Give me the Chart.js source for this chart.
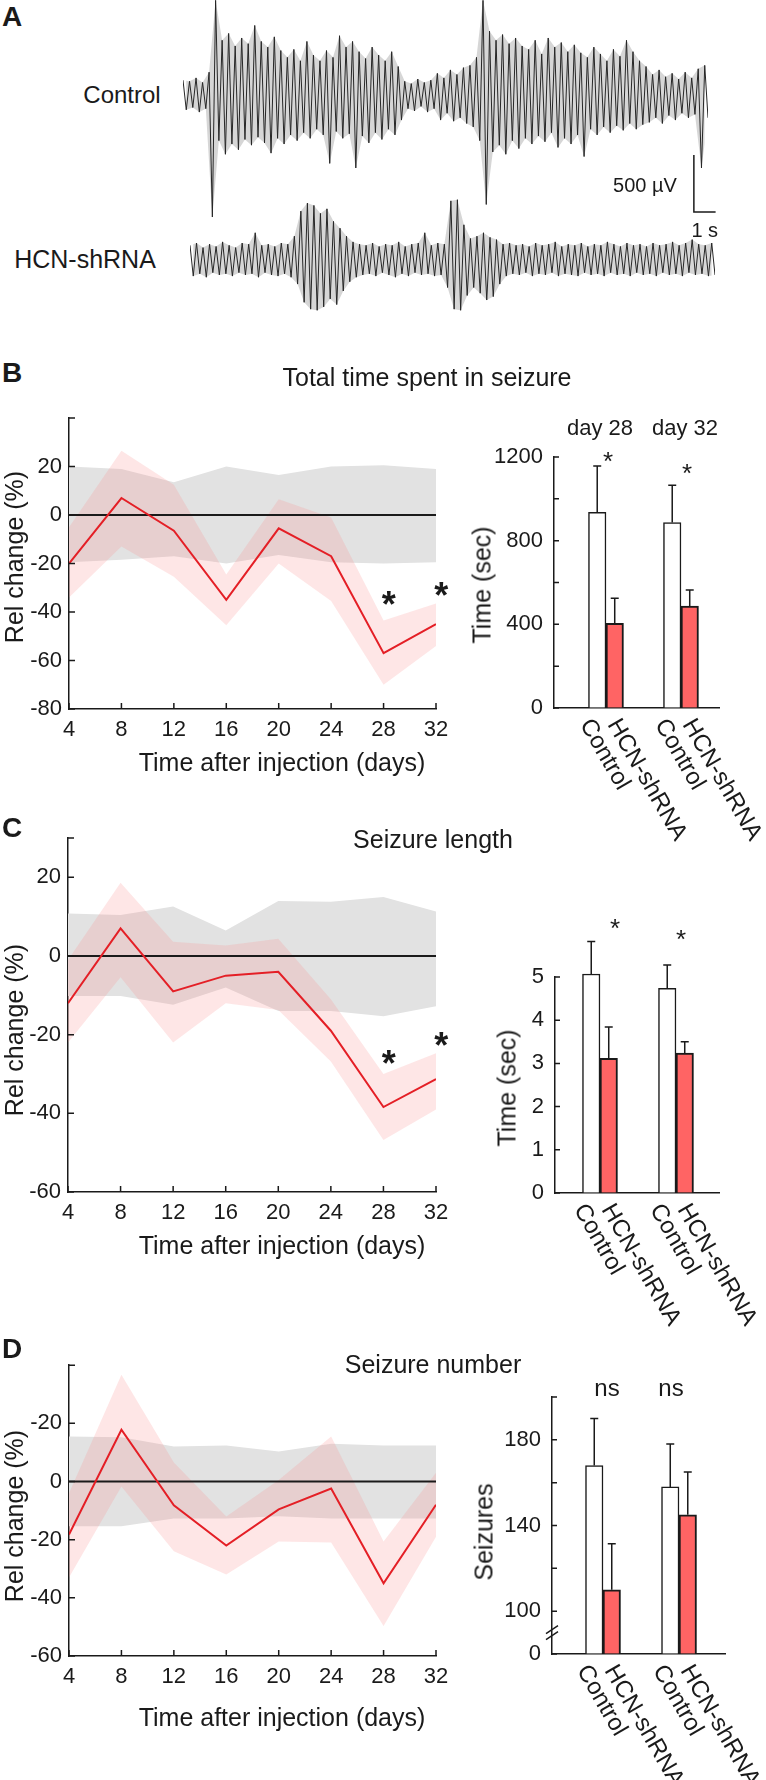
<!DOCTYPE html>
<html>
<head>
<meta charset="utf-8">
<title>HCN-shRNA seizures</title>
<script src="https://cdn.jsdelivr.net/npm/chart.js@4.4.0/dist/chart.umd.min.js"></script>
<style>
  html, body { margin: 0; padding: 0; background: #fff; }
  body { width: 766px; height: 1780px; position: relative; overflow: hidden; font-family: "Liberation Sans", Arial, sans-serif; color: #1a1a1a; }
  canvas { position: absolute; }
  .t { position: absolute; white-space: nowrap; line-height: 1; transform: translate(-50%, -50%); }
</style>
</head>
<body>
<script>
// Panel A - EEG traces, peak values (µV) read every 0.3 s
const sampleStep = 0.3;
const ctrlPeakHi = [130, 120, 150, 110, 200, 830, 480, 540, 430, 500, 450, 610, 470, 420, 510, 390, 330, 400, 300, 470,
  350, 300, 390, 330, 520, 420, 470, 380, 320, 420, 350, 300, 380, 250, 120, 100, 140, 110, 130, 190,
  150, 220, 180, 240, 260, 330, 830, 560, 480, 530, 450, 500, 430, 400, 480, 360, 500, 420, 460, 380,
  440, 370, 330, 420, 360, 300, 400, 340, 480, 380, 300, 250, 180, 220, 160, 190, 140, 200, 150, 230, 260];
const ctrlPeakLo = [-130, -110, -150, -120, -1070, -400, -520, -430, -480, -390, -440, -370, -420, -510, -380, -430, -350, -400, -330, -380,
  -300, -350, -600, -320, -380, -340, -640, -360, -420, -330, -390, -300, -350, -220, -120, -140, -100, -150, -120, -220,
  -160, -230, -200, -250, -280, -400, -960, -500, -440, -520, -400, -470, -380, -430, -360, -410, -330, -460, -380, -430,
  -350, -540, -300, -350, -280, -330, -270, -310, -250, -300, -260, -240, -200, -250, -180, -220, -160, -200, -170, -640, -200];
const hcnPeakHi = [120, 140, 100, 130, 110, 150, 120, 100, 140, 130, 230, 120, 130, 110, 140, 130, 200, 420, 490, 470,
  400, 440, 330, 270, 200, 150, 130, 120, 140, 110, 130, 120, 150, 110, 130, 140, 230, 120, 140, 130,
  510, 520, 300, 180, 200, 230, 190, 170, 130, 140, 120, 130, 110, 140, 120, 130, 150, 110, 130, 120,
  140, 110, 130, 120, 150, 130, 110, 140, 120, 130, 110, 140, 120, 130, 150, 120, 140, 170, 130, 120, 140];
const hcnPeakLo = [-150, -130, -160, -120, -140, -130, -150, -120, -140, -130, -160, -120, -140, -150, -130, -160, -220, -380, -440, -450,
  -420, -350, -400, -280, -200, -160, -140, -130, -150, -120, -140, -160, -130, -150, -120, -140, -130, -150, -140, -250,
  -440, -450, -320, -250, -300, -360, -330, -220, -150, -130, -140, -120, -150, -130, -140, -120, -150, -130, -140, -150,
  -120, -140, -130, -150, -120, -140, -130, -150, -120, -140, -130, -150, -120, -140, -130, -150, -120, -140, -130, -150, -140];
const scaleBarUv = 500;
const scaleBarSec = 1;

// Panels B-D, left: relative change (%) vs day
const days = [4, 8, 12, 16, 20, 24, 28, 32];

const totalTicks = [-80, -60, -40, -20, 0, 20];
const totalTickLabels = ['-80', '-60', '-40', '-20', '0', '20'];
const totalShrna = [-20, 7, -6.5, -35, -5.5, -17, -57, -45];
const totalShrnaHi = [-5, 26.5, 12.5, -24.5, 6.5, -1, -43.5, -36.5];
const totalShrnaLo = [-34, -13, -25.5, -45.5, -20, -35.5, -70, -54];
const totalCtrlHi = [20, 19, 13.5, 20, 16.5, 20, 20.5, 19];
const totalCtrlLo = [-19.5, -18.5, -17, -20, -16.5, -19.5, -20, -19.5];
const totalStars = [[28.4, -33.5], [32.4, -30]];

const lengthTicks = [-60, -40, -20, 0, 20];
const lengthTickLabels = ['-60', '-40', '-20', '0', '20'];
const lengthShrna = [-12, 7, -9, -5, -4, -19, -38.4, -31.3];
const lengthShrnaHi = [-1, 18.6, 3.6, 2.7, 4.4, -11, -30, -24.7];
const lengthShrnaLo = [-22, -5.4, -22, -12, -13.7, -26.8, -46.8, -39];
const lengthCtrlHi = [10.8, 10.4, 12.6, 6.5, 14, 13.8, 15, 11.3];
const lengthCtrlLo = [-10.2, -10.2, -12.4, -8, -14, -14, -15.3, -12.8];
const lengthStars = [[28.4, -25.3], [32.4, -20.6]];

const numberTicks = [-60, -40, -20, 0, 20];
const numberTickLabels = ['-60', '-40', '-20', '0', '-20'];
const numberShrna = [-18.2, 17.8, -8.2, -22, -9.6, -2.4, -35, -8];
const numberShrnaHi = [-4, 36.7, 6.5, -12, 0.5, 15.5, -20.6, 3];
const numberShrnaLo = [-33, -1.7, -24, -32, -20.6, -21, -49.7, -19];
const numberCtrlHi = [15.5, 15.2, 12, 12.4, 10.3, 13, 12.4, 12.4];
const numberCtrlLo = [-15.4, -15.4, -12.7, -12.7, -11.9, -12.7, -12.7, -12.7];

// Panels B-D, right: day 28 / day 32 bars
const barGroups = ['day 28', 'day 32'];
const groupPos = [1, 2];
const seriesNames = ['Control', 'HCN-shRNA'];

const timeTicks = [0, 400, 800, 1200];
const timeMinor = [200, 600, 1000];
const timeCtrl = [935, 887];
const timeCtrlErr = [222, 178];
const timeShrna = [405, 487];
const timeShrnaErr = [120, 77];

const lenTicks = [0, 1, 2, 3, 4, 5];
const lenCtrl = [5.07, 4.74];
const lenCtrlErr = [0.75, 0.54];
const lenShrna = [3.12, 3.24];
const lenShrnaErr = [0.72, 0.26];

// broken axis: the bottom tick stands for 0
const seizTicks = [80, 100, 140, 180];
const seizTickLabels = ['0', '100', '140', '180'];
const seizMinor = [120, 160, 200];
const seizCtrl = [168, 158];
const seizCtrlErr = [22, 20];
const seizShrna = [110, 145];
const seizShrnaErr = [21.5, 20];

const FONT = '"Liberation Sans", Arial, Helvetica, sans-serif';
const INK = '#1a1a1a';
const PINK = 'rgba(250, 140, 140, 0.22)';
const GREY = '#e2e2e2';
const RED = '#e41f26';
const SALMON = '#ff6464';

Chart.defaults.font.family = FONT;
Chart.defaults.color = INK;

function place(left, top, width, height) {
  const c = document.createElement('canvas');
  c.width = width; c.height = height;
  c.style.left = left + 'px'; c.style.top = top + 'px';
  c.style.width = width + 'px'; c.style.height = height + 'px';
  document.body.appendChild(c);
  return c;
}

// layout: left/bottom space is taken by the axis boxes, the rest by padding
function boxFor(rect, area) {
  return {
    yW: area[0] - rect[0],
    xH: rect[1] + rect[3] - area[3],
    pad: { left: 0, top: area[1] - rect[1], right: rect[0] + rect[2] - area[2], bottom: 0 }
  };
}

function text(str, x, y, size, opt) {
  opt = opt || {};
  const d = document.createElement('div');
  d.className = 't';
  d.textContent = str;
  d.style.left = x + 'px';
  d.style.top = y + 'px';
  d.style.fontSize = size + 'px';
  if (opt.bold) d.style.fontWeight = 'bold';
  if (opt.rotate) d.style.transform = 'translate(-50%, -50%) rotate(' + opt.rotate + 'deg)';
  document.body.appendChild(d);
}

const baseOptions = {
  responsive: false,
  animation: false,
  events: [],
  devicePixelRatio: 1
};

// ---- panel A ----
const scaleBarPlugin = {
  id: 'scaleBar',
  afterDraw(chart) {
    const { ctx, scales: { x, y } } = chart;
    const x0 = x.getPixelForValue(23.5), x1 = x.getPixelForValue(23.5 + scaleBarSec);
    const y0 = y.getPixelForValue(-1026), y1 = y.getPixelForValue(-1026 + scaleBarUv);
    ctx.save();
    ctx.strokeStyle = INK; ctx.lineWidth = 1.5;
    ctx.beginPath(); ctx.moveTo(x0, y1); ctx.lineTo(x0, y0); ctx.lineTo(x1, y0); ctx.stroke();
    ctx.fillStyle = INK; ctx.font = '20px ' + FONT;
    ctx.textAlign = 'right'; ctx.textBaseline = 'middle';
    ctx.fillText(scaleBarUv + ' µV', x0 - 17, (y0 + y1) / 2 + 3);
    ctx.textAlign = 'center';
    ctx.fillText(scaleBarSec + ' s', (x0 + x1) / 2, y0 + 19);
    ctx.restore();
  }
};

function traceChart(rect, pad, hi, lo, yMin, yMax, withBar) {
  const zig = [], top = [], bottom = [];
  hi.forEach((h, i) => {
    const t = i * sampleStep;
    zig.push({ x: t, y: h });
    zig.push({ x: t + sampleStep / 2, y: lo[i] });
    top.push({ x: t, y: h });
    bottom.push({ x: t + sampleStep / 2, y: lo[i] });
  });
  const env = (data, fill) => ({ data: data, borderWidth: 0, borderColor: 'rgba(0,0,0,0)', pointRadius: 0, tension: 0,
    fill: fill, backgroundColor: 'rgba(70,70,70,0.22)' });
  new Chart(place(...rect), {
    type: 'line',
    data: { datasets: [
      { data: zig, borderColor: '#262626', borderWidth: 1, pointRadius: 0, tension: 0 },
      env(top, '+1'), env(bottom, false)
    ] },
    options: Object.assign({}, baseOptions, {
      layout: { padding: pad },
      plugins: { legend: { display: false }, tooltip: { enabled: false } },
      scales: {
        x: { type: 'linear', display: false, min: 0, max: (hi.length - 0.5) * sampleStep },
        y: { display: false, min: yMin, max: yMax }
      }
    }),
    plugins: withBar ? [scaleBarPlugin] : []
  });
}

traceChart([183, 0, 560, 245], { left: 0, top: 0, right: 35, bottom: 20 }, ctrlPeakHi, ctrlPeakLo, -1140, 833, true);
traceChart([190, 190, 525, 130], 0, hcnPeakHi, hcnPeakLo, -535, 605, false);

// ---- relative change charts ----
function relDecor(c) {
  return {
    id: 'relDecor',
    beforeDatasetDraw(chart, args) {
      if (args.index !== 0) return;
      const { ctx, chartArea: a, scales: { y } } = chart;
      const py = y.getPixelForValue(0);
      ctx.save();
      ctx.strokeStyle = INK; ctx.lineWidth = 2;
      ctx.beginPath(); ctx.moveTo(a.left, py); ctx.lineTo(a.right, py); ctx.stroke();
      ctx.restore();
    },
    afterDraw(chart) {
      const { ctx, chartArea: a, scales: { x, y } } = chart;
      ctx.save();
      ctx.strokeStyle = INK; ctx.lineWidth = 1.5;
      ctx.beginPath();
      c.yTicks.concat([c.yMax]).forEach(v => {
        const p = y.getPixelForValue(v);
        ctx.moveTo(a.left, p); ctx.lineTo(a.left + 6, p);
      });
      days.forEach(v => {
        const p = x.getPixelForValue(v);
        ctx.moveTo(p, a.bottom); ctx.lineTo(p, a.bottom - 6);
      });
      ctx.stroke();
      ctx.fillStyle = INK; ctx.font = 'bold 36px ' + FONT;
      ctx.textAlign = 'center'; ctx.textBaseline = 'alphabetic';
      (c.stars || []).forEach(s => {
        ctx.fillText('*', x.getPixelForValue(s[0]), y.getPixelForValue(s[1]) + 0.57 * 36);
      });
      ctx.restore();
    }
  };
}

function relChart(rect, area, c) {
  const box = boxFor(rect, area);
  const pts = arr => days.map((d, i) => ({ x: d, y: arr[i] }));
  const band = (arr, fill, color) => ({
    data: pts(arr), borderWidth: 0, borderColor: 'rgba(0,0,0,0)', pointRadius: 0,
    fill: fill, backgroundColor: color, tension: 0
  });
  new Chart(place(...rect), {
    type: 'line',
    data: {
      datasets: [
        { data: pts(c.red), borderColor: RED, borderWidth: 2, pointRadius: 0, fill: false, tension: 0 },
        band(c.pinkHi, '+1', PINK), band(c.pinkLo, false, PINK),
        band(c.greyHi, '+1', GREY), band(c.greyLo, false, GREY)
      ]
    },
    options: Object.assign({}, baseOptions, {
      layout: { padding: box.pad },
      plugins: { legend: { display: false }, tooltip: { enabled: false } },
      scales: {
        x: {
          type: 'linear', min: days[0], max: days[days.length - 1],
          afterFit: s => { s.height = box.xH; },
          afterBuildTicks: s => { s.ticks = days.map(v => ({ value: v })); },
          ticks: { autoSkip: false, maxRotation: 0, padding: 8, font: { size: 22 }, color: INK, callback: (v, i) => String(days[i]) },
          grid: { drawOnChartArea: false, drawTicks: false },
          border: { color: INK, width: 1.5 }
        },
        y: {
          min: c.yMin, max: c.yMax,
          afterFit: s => { s.width = box.yW; },
          afterBuildTicks: s => { s.ticks = c.yTicks.map(v => ({ value: v })); },
          ticks: { padding: 7, font: { size: 22 }, color: INK, callback: (v, i) => c.yLabels[i] },
          grid: { drawOnChartArea: false, drawTicks: false },
          border: { color: INK, width: 1.5 }
        }
      }
    }),
    plugins: [relDecor(c)]
  });
}

relChart([20, 390, 440, 370], [69, 418, 436, 709], {
  yMin: -80, yMax: 40, yTicks: totalTicks, yLabels: totalTickLabels,
  red: totalShrna, pinkHi: totalShrnaHi, pinkLo: totalShrnaLo, greyHi: totalCtrlHi, greyLo: totalCtrlLo, stars: totalStars
});
relChart([20, 815, 440, 420], [68, 838, 436, 1192], {
  yMin: -60, yMax: 30, yTicks: lengthTicks, yLabels: lengthTickLabels,
  red: lengthShrna, pinkHi: lengthShrnaHi, pinkLo: lengthShrnaLo, greyHi: lengthCtrlHi, greyLo: lengthCtrlLo, stars: lengthStars
});
relChart([20, 1345, 440, 360], [69, 1365, 436, 1656], {
  yMin: -60, yMax: 40, yTicks: numberTicks, yLabels: numberTickLabels,
  red: numberShrna, pinkHi: numberShrnaHi, pinkLo: numberShrnaLo, greyHi: numberCtrlHi, greyLo: numberCtrlLo
});

// ---- bar charts ----
const labelShift = [-12, -2];

function barDecor(c) {
  return {
    id: 'barDecor',
    afterDatasetsDraw(chart) {
      const { ctx, chartArea: a, scales: { y } } = chart;
      ctx.save();
      ctx.strokeStyle = INK; ctx.lineWidth = 1.5;
      chart.data.datasets.forEach((ds, di) => {
        chart.getDatasetMeta(di).data.forEach((el, j) => {
          const top = y.getPixelForValue(ds.data[j].y + ds.errors[j]);
          ctx.beginPath();
          ctx.moveTo(el.x, el.y); ctx.lineTo(el.x, top);
          ctx.moveTo(el.x - 4, top); ctx.lineTo(el.x + 4, top);
          ctx.stroke();
        });
      });
      ctx.beginPath();
      c.yTicks.concat(c.minor || []).forEach(v => {
        const p = y.getPixelForValue(v);
        ctx.moveTo(a.left, p); ctx.lineTo(a.left + 5, p);
      });
      ctx.stroke();
      if (c.breakAt) {
        const p = y.getPixelForValue(c.breakAt);
        ctx.beginPath();
        [-3, 3].forEach(d => { ctx.moveTo(a.left - 6, p + d + 4); ctx.lineTo(a.left + 6, p + d - 4); });
        ctx.stroke();
      }
      ctx.fillStyle = INK; ctx.font = '24px ' + FONT;
      ctx.textAlign = 'left'; ctx.textBaseline = 'middle';
      chart.data.datasets.forEach((ds, di) => {
        chart.getDatasetMeta(di).data.forEach(el => {
          ctx.save();
          ctx.translate(el.x + labelShift[di], a.bottom + 13);
          ctx.rotate(Math.PI / 3);
          ctx.fillText(ds.label, 0, 0);
          ctx.restore();
        });
      });
      ctx.restore();
    }
  };
}

function barChart(rect, area, c) {
  const box = boxFor(rect, area);
  const series = (vals, errs, i) => ({
    label: seriesNames[i],
    data: groupPos.map((g, j) => ({ x: g, y: vals[j] })),
    errors: errs,
    base: c.yMin,
    backgroundColor: i ? SALMON : '#ffffff',
    borderColor: INK, borderWidth: i ? 2 : 1.5,
    barThickness: 17.5, clip: false
  });
  new Chart(place(...rect), {
    type: 'bar',
    data: { datasets: [series(c.ctrl, c.ctrlErr, 0), series(c.hcn, c.hcnErr, 1)] },
    options: Object.assign({}, baseOptions, {
      layout: { padding: box.pad },
      plugins: { legend: { display: false }, tooltip: { enabled: false } },
      scales: {
        x: {
          type: 'linear', offset: false, min: c.xMin, max: c.xMax,
          afterFit: s => { s.height = box.xH; },
          afterBuildTicks: s => { s.ticks = groupPos.map(v => ({ value: v })); },
          ticks: { display: false },
          grid: { drawOnChartArea: false, drawTicks: false, offset: false },
          border: { color: INK, width: 1.5 }
        },
        y: {
          min: c.yMin, max: c.yMax,
          afterFit: s => { s.width = box.yW; },
          afterBuildTicks: s => { s.ticks = c.yTicks.map(v => ({ value: v })); },
          ticks: { padding: 11, font: { size: 22 }, color: INK, callback: (v, i) => c.yLabels[i] },
          grid: { drawOnChartArea: false, drawTicks: false },
          border: { color: INK, width: 1.5 }
        }
      }
    }),
    plugins: [barDecor(c)]
  });
}

barChart([478, 400, 288, 450], [554, 457, 719, 708], {
  xMin: 0.307, xMax: 2.507, yMin: 0, yMax: 1200, yTicks: timeTicks, yLabels: timeTicks.map(String), minor: timeMinor,
  ctrl: timeCtrl, ctrlErr: timeCtrlErr, hcn: timeShrna, hcnErr: timeShrnaErr
});
barChart([500, 900, 266, 450], [555, 977, 719, 1193], {
  xMin: 0.408, xMax: 2.566, yMin: 0, yMax: 5, yTicks: lenTicks, yLabels: lenTicks.map(String),
  ctrl: lenCtrl, ctrlErr: lenCtrlErr, hcn: lenShrna, hcnErr: lenShrnaErr
});
barChart([490, 1370, 276, 410], [552, 1397, 725, 1654], {
  xMin: 0.329, xMax: 2.605, yMin: 80, yMax: 200, yTicks: seizTicks, yLabels: seizTickLabels, minor: seizMinor, breakAt: 90,
  ctrl: seizCtrl, ctrlErr: seizCtrlErr, hcn: seizShrna, hcnErr: seizShrnaErr
});

// ---- text ----
text('A', 12, 17, 28, { bold: true });
text('Control', 122, 95, 24);
text('HCN-shRNA', 85, 259, 25);

text('B', 12, 373, 28, { bold: true });
text('Total time spent in seizure', 427, 377, 25);
text('Rel change (%)', 14, 557, 25, { rotate: -90 });
text('Time after injection (days)', 282, 762, 25);
text('Time (sec)', 482, 585, 25, { rotate: -90 });
text(barGroups[0], 600, 428, 22);
text(barGroups[1], 685, 428, 22);
text('*', 608, 461, 26);
text('*', 687, 473, 26);

text('C', 12, 828, 28, { bold: true });
text('Seizure length', 433, 839, 25);
text('Rel change (%)', 14, 1030, 25, { rotate: -90 });
text('Time after injection (days)', 282, 1245, 25);
text('Time (sec)', 507, 1088, 25, { rotate: -90 });
text('*', 615, 928, 26);
text('*', 681, 939, 26);

text('D', 12, 1349, 28, { bold: true });
text('Seizure number', 433, 1364, 25);
text('Rel change (%)', 14, 1516, 25, { rotate: -90 });
text('Time after injection (days)', 282, 1717, 25);
text('Seizures', 484, 1532, 25, { rotate: -90 });
text('ns', 607, 1388, 24);
text('ns', 671, 1388, 24);
</script>
</body>
</html>
